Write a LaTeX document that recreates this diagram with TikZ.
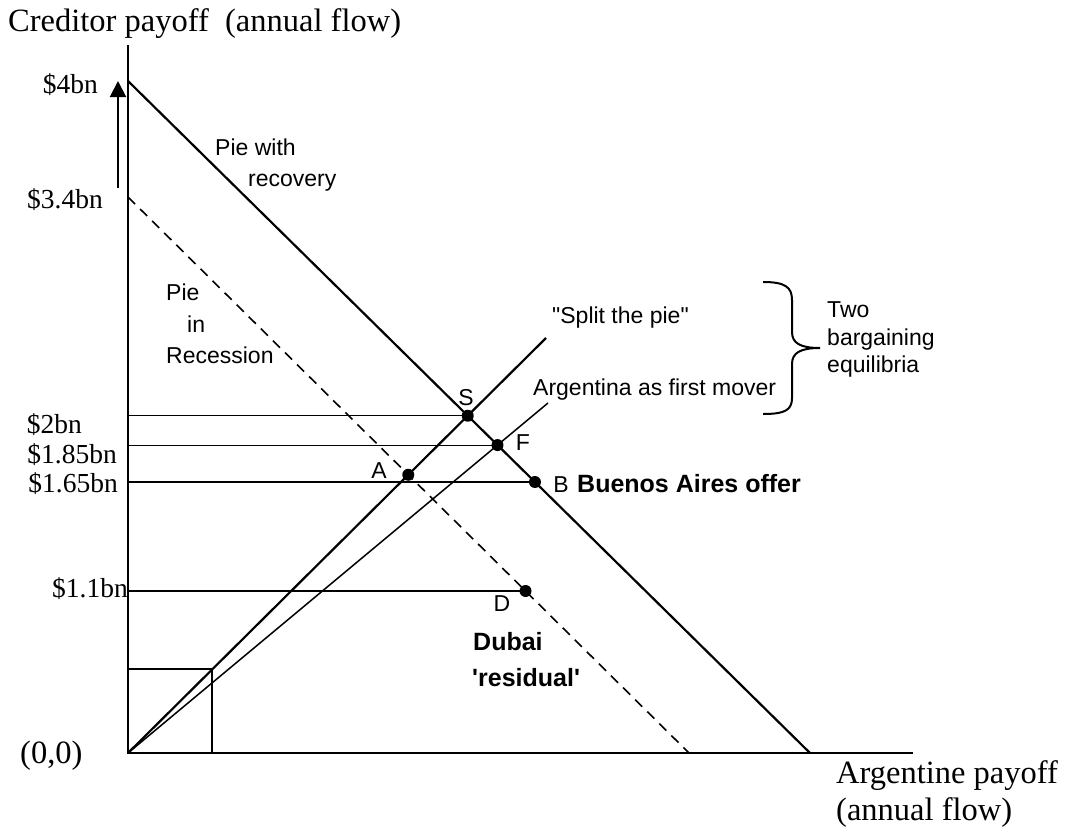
\documentclass[tikz,border=0pt]{standalone}
\usepackage{fontspec}
\setmainfont{Liberation Serif}
\setsansfont{Liberation Sans}[Ligatures=TeXOff]
\usetikzlibrary{arrows.meta}
\begin{document}
\begin{tikzpicture}[x=1pt,y=-1pt,
  axis/.style={line width=2.4pt},
  pieline/.style={line width=2.2pt},
  recline/.style={line width=1.6pt, dash pattern=on 10pt off 7pt},
  splitline/.style={line width=2.2pt},
  moverline/.style={line width=1.5pt},
  hline/.style={line width=1.1pt},
  boxline/.style={line width=1.5pt},
  dot/.style={circle, fill=black, inner sep=0pt, minimum size=12pt},
  ttl/.style={font=\fontsize{32.5}{36}\selectfont, inner sep=0pt},
  ylab/.style={font=\fontsize{27.5}{32}\selectfont, inner sep=0pt},
  lab/.style={font=\sffamily\fontsize{23}{27}\selectfont, inner sep=0pt},
  blab/.style={font=\sffamily\bfseries\fontsize{25}{30}\selectfont, inner sep=0pt},
]
\useasboundingbox (0,0) rectangle (1070,835);

% key coordinates
\coordinate (O) at (128,753);
\coordinate (Ytop) at (128,45);
\coordinate (Xend) at (913,753);
\coordinate (P4) at (128,81);
\coordinate (PE) at (810,753);
\coordinate (R34) at (128,197);
\coordinate (RE) at (689,753);
\coordinate (SPe) at (546,338);
\coordinate (FMe) at (548,403);
\coordinate (BoxT) at (128,669);
\coordinate (BoxR) at (212,753);
\coordinate (ArT) at (118,188);
\coordinate (ArH) at (118,81);

% axes
\draw[axis] (Ytop) -- (O) -- (Xend);

% pies
\draw[pieline] (P4) -- (PE);
\draw[recline] (R34) -- (RE);

% bargaining rays
\draw[splitline] (O) -- (SPe);
\draw[moverline] (O) -- (FMe);

% small box
\draw[boxline] (BoxT) -| (BoxR);

% arrow
\draw[line width=2pt, -{Triangle[width=16pt,length=16pt]}] (ArT) -- (ArH);

% points
\node[dot] (S) at (intersection of O--SPe and P4--PE) {};
\node[dot] (F) at (intersection of O--FMe and P4--PE) {};
\node[dot] (A) at (intersection of O--SPe and R34--RE) {};
\node[dot] (B) at (intersection of P4--PE and 0,482--1000,482) {};
\node[dot] (D) at (intersection of R34--RE and 0,591--1000,591) {};

% horizontal guides
\draw[hline] (O |- S) -- (S.center);
\draw[hline] (O |- F) -- (F.center);
\draw[hline] (O |- B) -- (B.center);
\draw[hline] (O |- D) -- (D.center);

% brace
\draw[line width=2pt] (763,282) .. controls (785,282) and (792,287) .. (792,300)
  -- (792,332) .. controls (792,343) and (800,348) .. (820,348)
  .. controls (800,348) and (792,353) .. (792,364)
  -- (792,398) .. controls (792,410) and (785,414) .. (763,414);

% axis titles
\node[ttl, anchor=base west] (ytitle) at (8,31) {Creditor payoff\ \ (annual flow)};
\node[ttl, anchor=base west] (xtitle1) at (836,783) {Argentine payoff};
\node[ttl, anchor=base west] (xtitle2) at (836,820) {(annual flow)};
\node[ttl, anchor=base west] (origin) at (20,763) {(0,0)};

% y labels
\node[ylab, anchor=base east] (l4) at (98,93) {\$4bn};
\node[ylab, anchor=base east] (l34) at (103,208) {\$3.4bn};
\node[ylab, anchor=base east] (l2) at (82,433) {\$2bn};
\node[ylab, anchor=base east] (l185) at (117,463) {\$1.85bn};
\node[ylab, anchor=base east] (l165) at (118,492) {\$1.65bn};
\node[ylab, anchor=base east] (l11) at (128,597) {\$1.1bn};

% point labels
\node[lab] (Slab) at (466,398) {S};
\node[lab] (Flab) at (523,443) {F};
\node[lab] (Alab) at (379,471) {A};
\node[lab] (Blab) at (561,485) {B};
\node[lab] (Dlab) at (502,604) {D};
\node[blab, anchor=base west] (ba) at (577,492) {Buenos Aires offer};
\node[blab, anchor=base west] (dub1) at (473,650) {Dubai};
\node[blab, anchor=base west] (dub2) at (472,686) {'residual'};

% curve labels
\node[lab, anchor=base west] (pw1) at (215,155) {Pie with};
\node[lab, anchor=base west] (pw2) at (248,186) {recovery};
\node[lab, anchor=base west] (pr1) at (166,300) {Pie};
\node[lab, anchor=base west] (pr2) at (187,332) {in};
\node[lab, anchor=base west] (pr3) at (166,363) {Recession};
\node[lab, anchor=base west] (split) at (552,323) {"Split the pie"};
\node[lab, anchor=base west] (mover) at (533,395) {Argentina as first mover};
\node[lab, anchor=base west] (two1) at (827,317) {Two};
\node[lab, anchor=base west] (two2) at (827,345) {bargaining};
\node[lab, anchor=base west] (two3) at (827,372) {equilibria};
\end{tikzpicture}
\end{document}
